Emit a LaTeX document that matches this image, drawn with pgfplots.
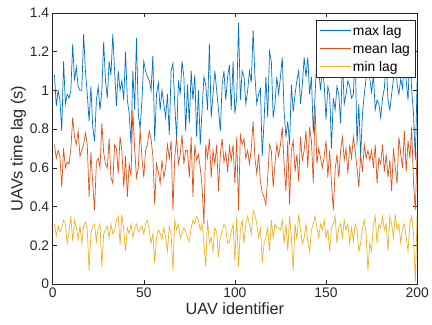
\documentclass[border=0pt]{standalone}
\usepackage{pgfplots}
\usepackage{pgfplotstable}
\pgfplotsset{compat=1.18}
\usepackage{fontspec}
\setmainfont{Liberation Sans}
\definecolor{mblue}{rgb}{0,0.447,0.741}
\definecolor{morange}{rgb}{0.85,0.325,0.098}
\definecolor{myellow}{rgb}{0.929,0.694,0.125}
\definecolor{axgray}{rgb}{0.15,0.15,0.15}

\pgfplotstableread[row sep=\\]{y\\
1.08\\0.92\\1.00\\0.95\\0.79\\1.15\\0.93\\0.98\\0.96\\1.00\\1.24\\1.05\\1.12\\1.02\\1.00\\1.00\\1.29\\1.10\\0.98\\0.84\\1.02\\0.81\\0.74\\
0.95\\1.02\\0.90\\1.00\\1.25\\1.05\\0.96\\1.15\\1.08\\1.29\\1.10\\0.92\\1.10\\1.00\\1.05\\0.95\\1.20\\0.95\\0.88\\0.72\\1.10\\0.90\\1.27\\0.88\\0.80\\0.95\\1.15\\
1.10\\1.07\\1.05\\1.00\\1.18\\0.74\\0.98\\1.04\\0.90\\1.00\\0.93\\0.86\\0.98\\0.77\\1.10\\1.14\\0.93\\0.75\\1.05\\0.98\\1.15\\1.07\\0.79\\
1.03\\0.83\\1.10\\0.95\\1.08\\0.76\\1.00\\0.72\\0.90\\1.07\\1.03\\0.90\\1.24\\0.86\\0.98\\1.10\\1.00\\0.90\\0.79\\1.03\\1.10\\0.95\\1.07\\1.13\\0.90\\
1.15\\0.88\\0.96\\1.35\\0.95\\1.10\\1.07\\0.93\\1.00\\1.10\\1.04\\1.31\\1.07\\0.93\\0.98\\1.01\\0.66\\0.84\\1.07\\0.86\\1.20\\1.15\\0.86\\0.93\\1.07\\
0.98\\1.07\\1.17\\0.89\\0.76\\0.84\\0.72\\1.03\\0.89\\0.98\\1.05\\1.10\\0.93\\1.03\\1.17\\1.07\\1.17\\0.98\\1.07\\0.78\\0.98\\1.17\\1.10\\1.00\\1.12\\
1.03\\0.85\\1.02\\0.98\\0.70\\0.96\\0.90\\1.02\\0.98\\0.83\\1.15\\0.93\\0.98\\1.05\\1.02\\0.96\\0.98\\1.20\\0.72\\0.93\\0.66\\0.88\\0.98\\1.06\\1.18\\
1.06\\0.99\\1.08\\0.90\\0.95\\0.93\\0.86\\0.96\\1.01\\1.15\\0.95\\0.90\\0.98\\1.06\\1.20\\1.03\\0.98\\1.06\\1.01\\1.16\\1.05\\0.95\\1.22\\1.00\\0.88\\0.64\\1.05\\
}\maxlag

\pgfplotstableread[row sep=\\]{y\\
0.72\\0.65\\0.69\\0.66\\0.50\\0.70\\0.60\\0.63\\0.62\\0.70\\0.86\\0.76\\0.72\\0.79\\0.66\\0.69\\0.72\\0.78\\0.72\\0.45\\0.68\\0.52\\0.38\\
0.63\\0.65\\0.60\\0.83\\0.68\\0.62\\0.60\\0.75\\0.55\\0.52\\0.72\\0.70\\0.57\\0.76\\0.69\\0.50\\0.66\\0.45\\0.62\\0.56\\0.90\\0.70\\0.55\\0.60\\0.80\\0.65\\0.55\\
0.69\\0.72\\0.79\\0.75\\0.66\\0.41\\0.62\\0.58\\0.52\\0.64\\0.55\\0.60\\0.72\\0.65\\0.74\\0.38\\0.65\\0.76\\0.62\\0.67\\0.77\\0.62\\0.69\\
0.69\\0.55\\0.76\\0.45\\0.72\\0.64\\0.67\\0.60\\0.50\\0.31\\0.72\\0.65\\0.75\\0.55\\0.69\\0.62\\0.72\\0.48\\0.67\\0.75\\0.63\\0.68\\0.58\\0.71\\0.64\\
0.72\\0.52\\0.76\\0.38\\0.77\\0.72\\0.75\\0.65\\0.69\\0.62\\0.70\\0.84\\0.65\\0.57\\0.67\\0.53\\0.47\\0.45\\0.41\\0.55\\0.72\\0.69\\0.50\\0.62\\0.72\\
0.66\\0.72\\0.81\\0.62\\0.48\\0.74\\0.41\\0.69\\0.74\\0.58\\0.67\\0.53\\0.76\\0.64\\0.69\\0.79\\0.60\\0.81\\0.74\\0.52\\0.92\\0.62\\0.70\\0.65\\0.60\\
0.66\\0.74\\0.55\\0.69\\0.52\\0.38\\0.59\\0.67\\0.55\\0.69\\0.76\\0.64\\0.70\\0.57\\0.72\\0.65\\0.76\\0.69\\0.60\\0.50\\0.67\\0.58\\0.72\\0.65\\0.69\\
0.64\\0.69\\0.60\\0.72\\0.52\\0.65\\0.62\\0.72\\0.58\\0.67\\0.55\\0.64\\0.48\\0.70\\0.60\\0.52\\0.76\\0.67\\0.60\\0.79\\0.58\\0.74\\0.65\\0.81\\0.52\\0.38\\0.69\\
}\meanlag

\pgfplotstableread[row sep=\\]{y\\
0.31\\0.25\\0.30\\0.27\\0.29\\0.33\\0.31\\0.21\\0.27\\0.35\\0.22\\0.33\\0.29\\0.23\\0.30\\0.21\\0.30\\0.32\\0.28\\0.07\\0.26\\0.30\\0.31\\
0.22\\0.29\\0.31\\0.09\\0.26\\0.28\\0.30\\0.24\\0.31\\0.26\\0.28\\0.33\\0.35\\0.20\\0.36\\0.28\\0.17\\0.29\\0.26\\0.31\\0.24\\0.29\\0.31\\0.27\\0.28\\0.30\\0.26\\
0.31\\0.33\\0.28\\0.21\\0.26\\0.11\\0.24\\0.28\\0.26\\0.23\\0.29\\0.24\\0.17\\0.30\\0.26\\0.07\\0.33\\0.28\\0.31\\0.24\\0.26\\0.29\\0.27\\
0.24\\0.22\\0.29\\0.33\\0.31\\0.35\\0.33\\0.28\\0.31\\0.21\\0.09\\0.33\\0.21\\0.24\\0.17\\0.29\\0.27\\0.14\\0.24\\0.27\\0.31\\0.29\\0.21\\0.22\\0.27\\
0.31\\0.12\\0.35\\0.09\\0.28\\0.33\\0.21\\0.31\\0.35\\0.31\\0.26\\0.38\\0.36\\0.31\\0.24\\0.29\\0.11\\0.21\\0.24\\0.29\\0.17\\0.33\\0.24\\0.31\\0.29\\
0.29\\0.28\\0.33\\0.21\\0.31\\0.17\\0.35\\0.24\\0.07\\0.31\\0.23\\0.36\\0.28\\0.21\\0.24\\0.31\\0.22\\0.17\\0.28\\0.31\\0.35\\0.29\\0.24\\0.31\\0.28\\
0.33\\0.24\\0.28\\0.17\\0.29\\0.31\\0.35\\0.21\\0.29\\0.31\\0.24\\0.33\\0.28\\0.31\\0.21\\0.29\\0.22\\0.31\\0.28\\0.17\\0.21\\0.29\\0.33\\0.26\\0.07\\
0.21\\0.17\\0.31\\0.35\\0.21\\0.31\\0.29\\0.35\\0.28\\0.31\\0.17\\0.35\\0.31\\0.24\\0.36\\0.28\\0.31\\0.21\\0.29\\0.31\\0.24\\0.17\\0.31\\0.35\\0.26\\0.01\\0.36\\
}\minlag

\begin{document}
\begin{tikzpicture}
\begin{axis}[
  scale only axis,
  width=367bp, height=273bp,
  xmin=0, xmax=200, ymin=0, ymax=1.4,
  xtick={0,50,100,150,200},
  ytick={0,0.2,0.4,0.6,0.8,1,1.2,1.4},
  tick align=inside,
  major tick length=4bp,
  axis line style={draw=axgray, line width=0.5pt},
  tick style={draw=axgray, line width=0.5pt},
  every tick label/.append style={font=\fontsize{14}{16}\selectfont, text=axgray},
  /pgf/number format/assume math mode=true,
  xlabel={UAV identifier},
  ylabel={UAVs time lag (s)},
  label style={font=\fontsize{16.5}{18}\selectfont, text=axgray},
  xlabel style={yshift=2bp},
  ylabel style={yshift=-3bp},
  legend style={at={(1,1)}, anchor=north east, xshift=-2bp, yshift=-7bp,
    draw=axgray, fill=white, font=\fontsize{14}{16}\selectfont, text=black,
    inner xsep=3bp, inner ysep=3bp, row sep=2.5bp, line width=0.5pt},
  legend cell align=left,
  legend image code/.code={\draw[#1] (0bp,0bp) -- (31bp,0bp);},
]
\addplot[mblue, line width=0.7pt] table[x expr=\coordindex+1, y index=0] {\maxlag};
\addlegendentry{max lag}
\addplot[morange, line width=0.7pt] table[x expr=\coordindex+1, y index=0] {\meanlag};
\addlegendentry{mean lag}
\addplot[myellow, line width=0.7pt] table[x expr=\coordindex+1, y index=0] {\minlag};
\addlegendentry{min lag}
\end{axis}
\path (current axis.south west) ++(-53bp,-41bp) coordinate (bbA);
\path (current axis.north east) ++(12bp,13bp) coordinate (bbB);
\path (bbA) rectangle (bbB);
\end{tikzpicture}
\end{document}
